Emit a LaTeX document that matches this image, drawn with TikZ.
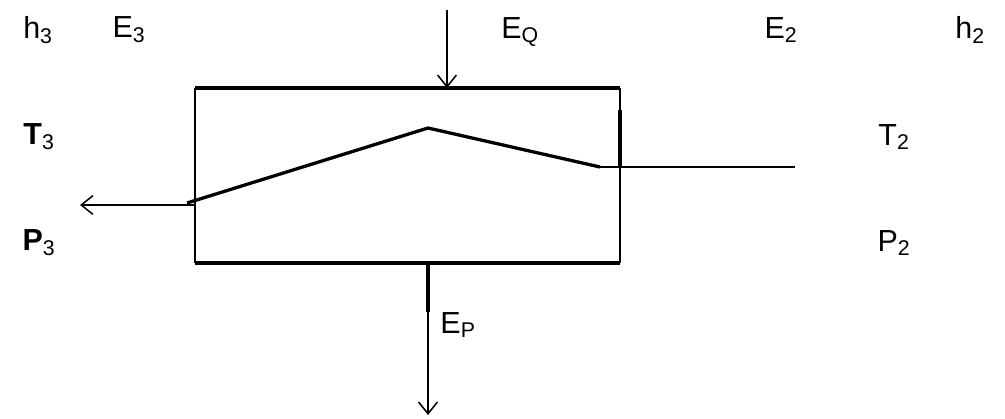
\documentclass[tikz,border=0pt]{standalone}
\usepackage{fontspec}
\setmainfont{Liberation Sans}
\usetikzlibrary{arrows.meta}
\begin{document}
\begin{tikzpicture}[x=0.03cm,y=-0.03cm,
  lbl/.style={inner sep=0pt,anchor=center,font=\fontsize{26}{30}\selectfont},
  thin line/.style={line width=1.3pt},
  thick line/.style={line width=2.8pt},
  arr/.style={-{Straight Barb[length=10pt,width=16pt,line width=1.3pt]},line width=1.3pt}]
\useasboundingbox (0,0) rectangle (1005,418);
% box corners
\coordinate (tl) at (195,88);
\coordinate (tr) at (620,88);
\coordinate (bl) at (195,263);
\coordinate (br) at (620,263);
\coordinate (rj) at (620,167);
\coordinate (rt) at (620,110);
% flow path
\coordinate (pin) at (187,203);
\coordinate (peak) at (428,128);
\coordinate (pend) at (600,167);
\coordinate (pout) at (795,167);
\coordinate (lout) at (80,205);
\coordinate (lin) at (195,205);
% energy arrows
\coordinate (qin) at (447,10);
\coordinate (qbox) at (447,88);
\coordinate (pbox) at (428,263);
\coordinate (pmid) at (428,312);
\coordinate (pdown) at (428,415);
% box
\draw[thin line] (tl) -- (bl);
\draw[thin line] (rj) -- (br);
\draw[thick line] (tl) -- (tr);
\draw[thick line] (bl) -- (br);
\draw[thin line] (tr) -- (rt);
\draw[thick line] (rt) -- (rj);
% flow line
\draw[thick line,line join=miter] (pin) -- (peak) -- (pend);
\draw[thin line] (pend) -- (pout);
\draw[arr] (lin) -- (lout);
% energy arrows
\draw[arr] (qin) -- (qbox);
\draw[thick line] (pbox) -- (pmid);
\draw[arr] (pmid) -- (pdown);
% labels
\node[lbl] (h3) at (38,30) {h\textsubscript{3}};
\node[lbl] (E3) at (129,30) {E\textsubscript{3}};
\node[lbl] (EQ) at (520,32) {E\textsubscript{Q}};
\node[lbl] (E2) at (781,30) {E\textsubscript{2}};
\node[lbl] (h2) at (970,30) {h\textsubscript{2}};
\node[lbl] (T3) at (39,137) {\textbf{T}\textsubscript{3}};
\node[lbl] (T2) at (894,137) {T\textsubscript{2}};
\node[lbl] (P3) at (39,243) {\textbf{P}\textsubscript{3}};
\node[lbl] (P2) at (894,243) {P\textsubscript{2}};
\node[lbl] (EP) at (458,325) {E\textsubscript{P}};
\end{tikzpicture}
\end{document}
